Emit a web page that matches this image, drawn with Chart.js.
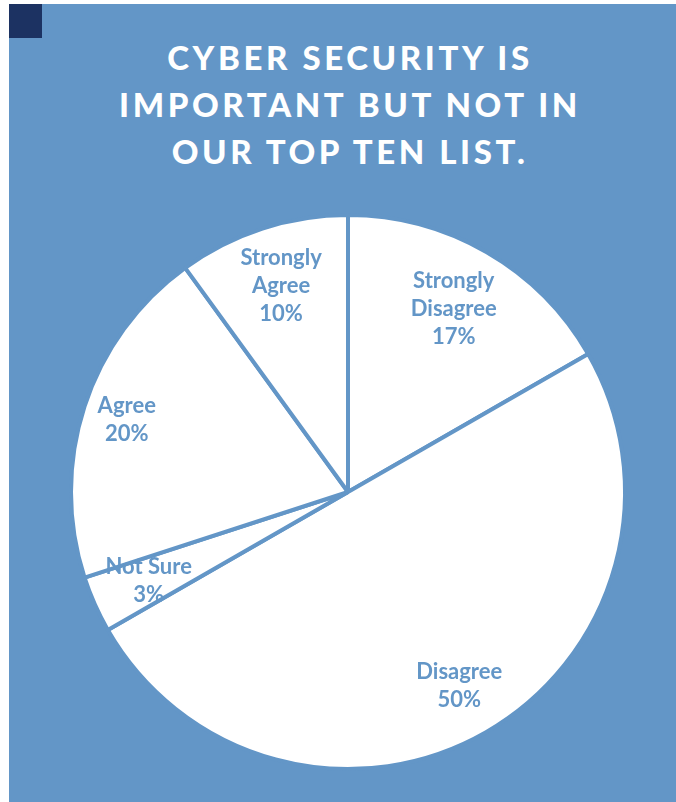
<!DOCTYPE html>
<html>
<head>
<meta charset="utf-8">
<script src="https://cdn.jsdelivr.net/npm/chart.js@4"></script>
<style>
  body { margin: 0; width: 676px; height: 802px; background: #ffffff; position: relative; overflow: hidden; }
  #panel { position: absolute; left: 9px; top: 4px; right: 0; bottom: 0; background: #6396c7; }
  #corner { position: absolute; left: 9px; top: 4px; width: 33px; height: 34px; background: #1c3262; }
  #title {
    position: absolute; left: 0; top: 34px; width: 700px;
    text-align: center; color: #ffffff;
    font-family: Lato, sans-serif; font-weight: 900; font-size: 33px;
    letter-spacing: 3.6px; line-height: 47px;
  }
  #pie { position: absolute; left: 0; top: 0; }
</style>
</head>
<body>
<div id="panel"></div>
<div id="corner"></div>
<div id="title">CYBER SECURITY IS<br>IMPORTANT BUT NOT IN<br>OUR TOP TEN LIST.</div>
<canvas id="pie" width="676" height="802"></canvas>

<script>
// data //
const categories = ['Strongly Disagree', 'Disagree', 'Not Sure', 'Agree', 'Strongly Agree'];
const shares = [16.7, 50, 3.3, 20, 10];

const panelBlue = '#6396c7';

// labels drawn inside end of each slice //
const sliceLabels = {
    id: 'sliceLabels',
    afterDatasetsDraw(chart) {
        const ctx = chart.ctx;
        const arcs = chart.getDatasetMeta(0).data;
        ctx.save();
        ctx.font = 'bold 22px Lato, sans-serif';
        ctx.fillStyle = panelBlue;
        ctx.textAlign = 'center';
        ctx.textBaseline = 'middle';
        const lineH = 28;
        for (let i = 0; i < arcs.length; i++) {
            const arc = arcs[i];
            let lines = [categories[i]];
            if (ctx.measureText(categories[i]).width > 100) {
                lines = categories[i].split(' ');
            }
            lines.push(Math.round(shares[i]) + '%');
            let w = 0;
            lines.forEach(l => { w = Math.max(w, ctx.measureText(l).width); });
            const h = lines.length * lineH;
            const mid = (arc.startAngle + arc.endAngle) / 2;
            const cx = Math.cos(mid), cy = Math.sin(mid);
            const extent = Math.abs(cx) * w / 2 + Math.abs(cy) * h / 2;
            const d = arc.outerRadius - 8 - extent;
            const x = arc.x + cx * d;
            const y = arc.y + cy * d;
            for (let j = 0; j < lines.length; j++) {
                ctx.fillText(lines[j], x, y - h / 2 + lineH / 2 + j * lineH);
            }
        }
        ctx.restore();
    }
};

new Chart(document.getElementById('pie'), {
    type: 'pie',
    data: {
        labels: categories,
        datasets: [{
            data: shares,
            backgroundColor: '#ffffff',
            borderColor: panelBlue,
            borderWidth: 4,
            hoverOffset: 0
        }]
    },
    options: {
        responsive: false,
        animation: false,
        radius: 277,
        layout: {
            padding: { left: 20, top: 182, right: 0, bottom: 0 }
        },
        plugins: {
            legend: { display: false },
            tooltip: { enabled: false }
        }
    },
    plugins: [sliceLabels]
});
</script>
</body>
</html>
